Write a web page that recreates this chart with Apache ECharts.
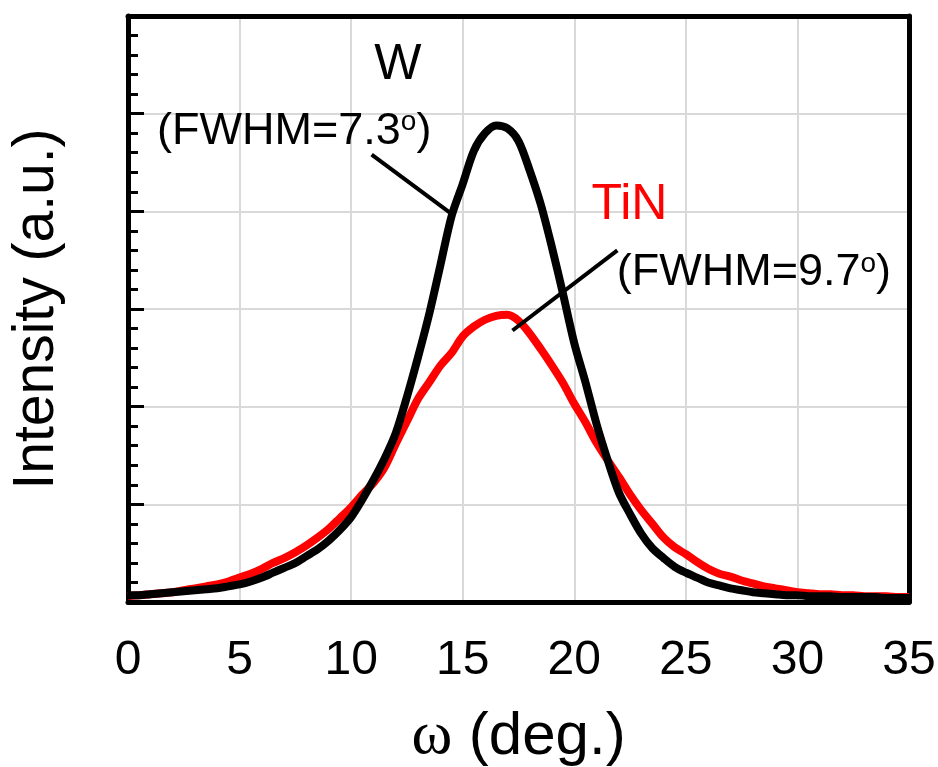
<!DOCTYPE html>
<html>
<head>
<meta charset="utf-8">
<script src="https://cdn.jsdelivr.net/npm/echarts@6/dist/echarts.min.js"></script>
<style>
  html, body { margin: 0; padding: 0; background: #fff; }
  #main { width: 938px; height: 767px; }
</style>
</head>
<body>
<div id="main"></div>
<script>
// omega (deg.), 0.5 deg steps
var omega = [
  0, 0.5, 1, 1.5, 2, 2.5, 3, 3.5, 4, 4.5,
  5, 5.5, 6, 6.5, 7, 7.5, 8, 8.5, 9, 9.5,
  10, 10.5, 11, 11.5, 12, 12.5, 13, 13.5, 14, 14.5,
  15, 15.5, 16, 16.5, 17, 17.5, 18, 18.5, 19, 19.5,
  20, 20.5, 21, 21.5, 22, 22.5, 23, 23.5, 24, 24.5,
  25, 25.5, 26, 26.5, 27, 27.5, 28, 28.5, 29, 29.5,
  30, 30.5, 31, 31.5, 32, 32.5, 33, 33.5, 34, 34.5,
  35
];
// W rocking curve (a.u.)
var intensityW = [
  0.07, 0.07, 0.08, 0.09, 0.10, 0.11, 0.12, 0.13, 0.14, 0.16,
  0.18, 0.21, 0.25, 0.30, 0.35, 0.40, 0.47, 0.54, 0.63, 0.74,
  0.87, 1.05, 1.25, 1.47, 1.73, 2.10, 2.51, 2.95, 3.45, 3.95,
  4.28, 4.62, 4.80, 4.88, 4.85, 4.72, 4.42, 4.07, 3.63, 3.15,
  2.65, 2.25, 1.82, 1.45, 1.12, 0.90, 0.70, 0.55, 0.45, 0.36,
  0.30, 0.25, 0.20, 0.17, 0.14, 0.12, 0.10, 0.09, 0.08, 0.07,
  0.07, 0.06, 0.06, 0.06, 0.05, 0.05, 0.05, 0.05, 0.04, 0.04,
  0.04
];
// TiN rocking curve (a.u.)
var intensityTiN = [
  0.06, 0.07, 0.08, 0.09, 0.10, 0.12, 0.14, 0.16, 0.18, 0.21,
  0.25, 0.29, 0.34, 0.40, 0.45, 0.51, 0.58, 0.66, 0.75, 0.86,
  0.97, 1.10, 1.22, 1.38, 1.62, 1.85, 2.08, 2.25, 2.42, 2.55,
  2.72, 2.82, 2.89, 2.93, 2.94, 2.88, 2.75, 2.59, 2.42, 2.24,
  2.03, 1.84, 1.63, 1.45, 1.28, 1.10, 0.94, 0.80, 0.66, 0.56,
  0.49, 0.41, 0.34, 0.29, 0.26, 0.22, 0.19, 0.16, 0.14, 0.12,
  0.10, 0.09, 0.08, 0.08, 0.07, 0.07, 0.06, 0.06, 0.06, 0.05,
  0.05
];
var xTicks = ['0', '5', '10', '15', '20', '25', '30', '35'];

// annotations, in data coordinates
var leaderW = [[10.92, 4.58], [14.41, 3.99]];
var leaderTiN = [[17.23, 2.78], [21.93, 3.60]];
var labelW = [12.09, 5.50];
var fwhmW = [7.45, 4.82];
var labelTiN = [22.47, 4.06];
var fwhmTiN = [28.05, 3.37];

function pairs(xs, ys) {
  var out = [];
  for (var i = 0; i < xs.length; i++) out.push([xs[i], ys[i]]);
  return out;
}

var FONT = 'Liberation Sans, Arial, sans-serif';
var chart = echarts.init(document.getElementById('main'));

var option = {
  animation: false,
  backgroundColor: '#fff',
  grid: { left: 128, right: 29, top: 16, bottom: 165, containLabel: false, outerBoundsMode: 'none' },
  xAxis: [{
    type: 'value', min: 0, max: 35, interval: 5,
    axisLine: { show: true, onZero: false, lineStyle: { color: '#000', width: 5 } },
    axisTick: { show: false },
    axisLabel: {
      color: '#000', fontSize: 48, fontFamily: FONT, margin: 35,
      formatter: function (v) { return xTicks[v / 5]; }
    },
    splitLine: { show: true, lineStyle: { color: '#d9d9d9', width: 2 } },
    name: '{w|ω} (deg.)',
    nameLocation: 'middle', nameGap: 104,
    nameTextStyle: {
      color: '#000', fontSize: 60, fontFamily: FONT,
      rich: { w: { fontSize: 62, fontFamily: 'Liberation Serif, Times New Roman, serif', color: '#000' } }
    }
  }, {
    type: 'value', min: 0, max: 35, position: 'top',
    axisLine: { show: true, onZero: false, lineStyle: { color: '#000', width: 5 } },
    axisTick: { show: false }, axisLabel: { show: false }, splitLine: { show: false }
  }],
  yAxis: [{
    type: 'value', min: 0, max: 6, interval: 1,
    axisLine: { show: true, onZero: false, lineStyle: { color: '#000', width: 5 } },
    axisTick: { show: true, inside: true, length: 16, lineStyle: { color: '#000', width: 3 } },
    minorTick: { show: true, splitNumber: 5, length: 10, lineStyle: { color: '#000', width: 3 } },
    axisLabel: { show: false },
    splitLine: { show: true, lineStyle: { color: '#d9d9d9', width: 2 } },
    name: 'Intensity (a.u.)',
    nameLocation: 'middle', nameGap: 62,
    nameTextStyle: { color: '#000', fontSize: 57, fontFamily: FONT }
  }, {
    type: 'value', min: 0, max: 6, position: 'right',
    axisLine: { show: true, onZero: false, lineStyle: { color: '#000', width: 5 } },
    axisTick: { show: false }, axisLabel: { show: false }, splitLine: { show: false }
  }],
  series: [{
    name: 'TiN', type: 'line', showSymbol: false, smooth: 0.3,
    data: pairs(omega, intensityTiN),
    lineStyle: { color: '#ff0000', width: 8 }
  }, {
    name: 'W', type: 'line', showSymbol: false, smooth: 0.3,
    data: pairs(omega, intensityW),
    lineStyle: { color: '#000000', width: 8 }
  }]
};
chart.setOption(option);

function px(p) { return chart.convertToPixel({ gridIndex: 0 }, p); }
function leader(seg) {
  var a = px(seg[0]), b = px(seg[1]);
  return { type: 'line', shape: { x1: a[0], y1: a[1], x2: b[0], y2: b[1] },
    style: { stroke: '#000', lineWidth: 4 }, z: 100 };
}
function label(p, txt, size, color) {
  var c = px(p);
  return { type: 'text', x: c[0], y: c[1], z: 100,
    style: { text: txt, fill: color, fontSize: size, fontFamily: FONT,
      align: 'center', verticalAlign: 'middle',
      rich: { sup: { fontSize: 28, fontFamily: FONT, fill: color, verticalAlign: 'top' } } } };
}
chart.setOption({
  graphic: [
    leader(leaderW), leader(leaderTiN),
    label(labelW, 'W', 50, '#000'),
    label(fwhmW, '(FWHM=7.3{sup|o})', 45, '#000'),
    label(labelTiN, 'TiN', 50, '#ff0000'),
    label(fwhmTiN, '(FWHM=9.7{sup|o})', 45, '#000')
  ]
});
</script>
</body>
</html>
